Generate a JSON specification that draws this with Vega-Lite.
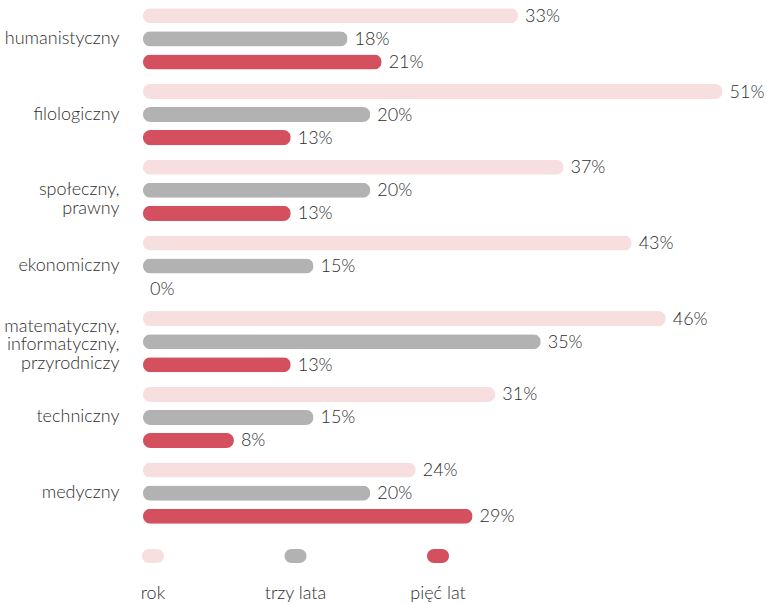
{
  "$schema": "https://vega.github.io/schema/vega-lite/v6.json",
  "padding": {"left": 3, "top": 1, "right": 0, "bottom": 0},
  "background": "white",
  "spacing": 18,
  "config": {
    "view": {"stroke": null},
    "font": "Lato",
    "text": {"font": "Lato", "fontWeight": 300},
    "axis": {"labelFont": "Lato", "labelFontWeight": 300}
  },
  "datasets": {
    "main": [
      {"category": "humanistyczny", "series": "rok", "value": 0.33},
      {"category": "humanistyczny", "series": "trzy lata", "value": 0.18},
      {"category": "humanistyczny", "series": "pięć lat", "value": 0.21},
      {"category": "filologiczny", "series": "rok", "value": 0.51},
      {"category": "filologiczny", "series": "trzy lata", "value": 0.20},
      {"category": "filologiczny", "series": "pięć lat", "value": 0.13},
      {"category": "społeczny,\nprawny", "series": "rok", "value": 0.37},
      {"category": "społeczny,\nprawny", "series": "trzy lata", "value": 0.20},
      {"category": "społeczny,\nprawny", "series": "pięć lat", "value": 0.13},
      {"category": "ekonomiczny", "series": "rok", "value": 0.43},
      {"category": "ekonomiczny", "series": "trzy lata", "value": 0.15},
      {"category": "ekonomiczny", "series": "pięć lat", "value": 0.0},
      {"category": "matematyczny,\ninformatyczny,\nprzyrodniczy", "series": "rok", "value": 0.46},
      {"category": "matematyczny,\ninformatyczny,\nprzyrodniczy", "series": "trzy lata", "value": 0.35},
      {"category": "matematyczny,\ninformatyczny,\nprzyrodniczy", "series": "pięć lat", "value": 0.13},
      {"category": "techniczny", "series": "rok", "value": 0.31},
      {"category": "techniczny", "series": "trzy lata", "value": 0.15},
      {"category": "techniczny", "series": "pięć lat", "value": 0.08},
      {"category": "medyczny", "series": "rok", "value": 0.24},
      {"category": "medyczny", "series": "trzy lata", "value": 0.20},
      {"category": "medyczny", "series": "pięć lat", "value": 0.29}
    ],
    "legend": [
      {"series": "rok"},
      {"series": "trzy lata"},
      {"series": "pięć lat"}
    ]
  },
  "vconcat": [
    {
      "width": 600,
      "height": 530,
      "data": {"name": "main"},
      "encoding": {
        "y": {
          "field": "category", "type": "nominal", "sort": null,
          "scale": {"paddingInner": 0, "paddingOuter": 0},
          "axis": {
            "title": null, "ticks": false, "domain": false,
            "labelPadding": 24, "minExtent": 139, "maxExtent": 139,
            "labelFontSize": 18, "labelColor": "#2e2e2e", "labelLimit": 300,
            "labelLineHeight": 18.5,
            "labelOffset": {"condition": {"test": "indexof(datum.value, 'matematyczny') >= 0", "value": -15}, "value": 0},
            "labelExpr": "split(datum.label, '\\n')"
          }
        },
        "yOffset": {
          "field": "series", "type": "nominal",
          "sort": ["rok", "trzy lata", "pięć lat"],
          "scale": {"paddingInner": 0.348, "paddingOuter": 0.315}
        },
        "x": {
          "field": "value", "type": "quantitative",
          "scale": {"domain": [0, 0.528], "nice": false},
          "axis": null
        }
      },
      "layer": [
        {
          "mark": {"type": "bar", "cornerRadius": 7.5},
          "encoding": {
            "color": {
              "field": "series", "type": "nominal",
              "scale": {"domain": ["rok", "trzy lata", "pięć lat"], "range": ["#f6dfde", "#b2b2b2", "#d5505f"]},
              "legend": null
            }
          }
        },
        {
          "mark": {"type": "text", "align": "left", "baseline": "middle", "dx": 7, "dy": 1, "fontSize": 18, "color": "#2e2e2e"},
          "encoding": {
            "text": {"field": "value", "type": "quantitative", "format": ".0%"}
          }
        }
      ]
    },
    {
      "width": 305,
      "height": 14,
      "data": {"name": "legend"},
      "encoding": {
        "x": {
          "field": "series", "type": "nominal",
          "sort": ["rok", "trzy lata", "pięć lat"],
          "scale": {"type": "point", "padding": 0.07},
          "axis": null
        }
      },
      "layer": [
        {
          "mark": {"type": "bar", "width": 22, "cornerRadius": 7},
          "encoding": {
            "color": {
              "field": "series", "type": "nominal",
              "scale": {"domain": ["rok", "trzy lata", "pięć lat"], "range": ["#f6dfde", "#b2b2b2", "#d5505f"]},
              "legend": null
            }
          }
        },
        {
          "mark": {"type": "text", "align": "center", "baseline": "middle", "dy": 38, "fontSize": 18, "color": "#2e2e2e"},
          "encoding": {
            "text": {"field": "series", "type": "nominal"}
          }
        }
      ]
    }
  ]
}
